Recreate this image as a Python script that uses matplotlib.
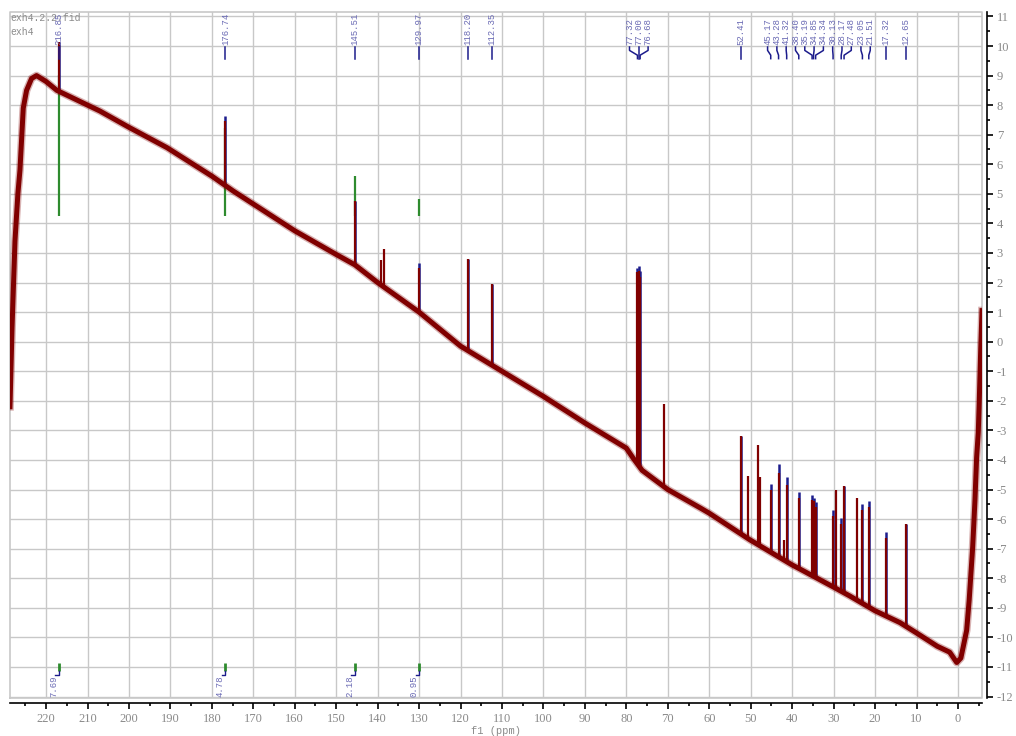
import numpy as np
import matplotlib.pyplot as plt
from matplotlib.ticker import MultipleLocator
from matplotlib.transforms import blended_transform_factory

plt.rcParams['font.family'] = ['Liberation Serif', 'DejaVu Serif']
plt.rcParams['axes.unicode_minus'] = False

# baseline of the 13C trace (ppm, intensity)
base_ppm = [228.7, 228.2, 227.5, 226.8, 226.3, 225.5, 224.7, 223.5, 222.3, 220.0,
            217.4, 207.0, 200.0, 190.8, 180.0, 174.9, 160.0, 150.0, 145.5, 140.0,
            130.0, 120.0, 110.0, 100.0, 90.0, 80.0, 78.3, 76.2, 70.0, 62.2,
            60.0, 50.2, 40.0, 38.1, 30.0, 26.1, 20.0, 14.0, 10.0, 5.0,
            2.0, 0.3, -0.7, -1.3, -2.1, -2.7, -3.55, -4.1, -4.5, -4.9,
            -5.14, -5.5, -5.8]
base_int = [-2.2, 0.5, 3.4, 5.0, 5.8, 7.9, 8.5, 8.9, 9.0, 8.8,
            8.5, 7.8, 7.25, 6.56, 5.6, 5.1, 3.75, 2.95, 2.6, 2.0,
            1.0, -0.15, -1.0, -1.85, -2.75, -3.6, -3.95, -4.35, -5.0, -5.62,
            -5.8, -6.7, -7.55, -7.69, -8.3, -8.6, -9.1, -9.5, -9.85, -10.3,
            -10.5, -10.85, -10.7, -10.3, -9.76, -8.75, -6.95, -5.37, -3.92, -3.07,
            -2.0, -0.2, 1.05]

# picked peaks (exh4) and their tops
pick_ppm = [216.85, 176.74, 145.51, 129.97, 118.20, 112.35, 77.32, 77.00, 76.68,
            52.41, 45.17, 43.28, 41.32, 38.40, 35.19, 34.85, 34.34, 30.13, 28.17,
            27.48, 23.05, 21.51, 17.32, 12.65]
pick_top = [10.15, 7.64, 4.75, 2.67, 2.8, 1.96, 2.5, 2.55, 2.4,
            -3.18, -4.8, -4.15, -4.56, -5.07, -5.2, -5.3, -5.43, -5.7, -5.95,
            -4.87, -5.5, -5.4, -6.45, -6.15]

# peaks of exh4.2.2.fid
red_ppm = [216.85, 176.74, 145.51, 139.2, 138.5, 129.97, 118.20, 112.35, 77.32,
           77.00, 76.68, 70.9, 52.41, 50.7, 48.2, 47.8, 45.17, 43.28, 41.9,
           41.32, 38.40, 35.19, 34.85, 34.34, 30.13, 29.4, 28.17, 27.48, 24.4,
           23.05, 21.51, 17.32, 12.65]
red_top = [10.15, 7.45, 4.75, 2.75, 3.15, 2.5, 2.8, 1.96, 2.35,
           2.4, 2.2, -2.1, -3.18, -4.53, -3.5, -4.56, -5.03, -4.45, -6.7,
           -4.85, -5.3, -5.35, -5.4, -5.6, -5.9, -5.03, -6.15, -4.87, -5.3,
           -5.7, -5.6, -6.65, -6.15]

# integrals
int_ppm = [216.85, 176.74, 145.51, 129.97]
int_val = [7.69, 4.78, 2.18, 0.95]

red = '#800000'
blue = '#1c1c8c'
lab = '#6a6ab4'
green = '#2e8b2e'
gray = '#c8c8c8'
tick_gray = '#8a8a8a'
mono = ['Liberation Mono', 'DejaVu Sans Mono']

fig = plt.figure(figsize=(10.16, 7.36), dpi=100)
ax = fig.add_axes([10 / 1016, 38 / 736, 972 / 1016, 686 / 736])
ax.set_xlim(228.7, -5.8)
ax.set_ylim(-12.05, 11.15)

# grid
for x in range(0, 230, 10):
    ax.axvline(x, color=gray, lw=1, zorder=0)
for y in range(-12, 12):
    ax.axhline(y, color=gray, lw=1, zorder=0)
ax.plot([0, 1, 1, 0, 0], [0, 0, 1, 1, 0], transform=ax.transAxes,
        color=gray, lw=1.2, clip_on=False, zorder=0)

base_ppm = np.array(base_ppm)
base_int = np.array(base_int)
order = np.argsort(base_ppm)

def foot(p):
    return np.interp(p, base_ppm[order], base_int[order])

# integral curves
int_scale = 0.62
int_base = 4.25
for p, v in zip(int_ppm, int_val):
    ax.vlines(p, int_base, int_base + v * int_scale, color=green, lw=1.6, zorder=1)

# exh4 trace underneath
ax.plot(base_ppm, base_int, color=blue, lw=2, zorder=2)
ax.vlines(pick_ppm, foot(np.array(pick_ppm)), pick_top, color=blue, lw=1.8, zorder=2)

# exh4.2.2.fid trace on top
ax.plot(base_ppm, base_int, color=red, lw=5.6, alpha=0.3, zorder=3)
ax.plot(base_ppm, base_int, color=red, lw=3.6, zorder=3)
ax.vlines(red_ppm, foot(np.array(red_ppm)), red_top, color=red, lw=1.6, zorder=3)

# peak labels spread along the top
fig.canvas.draw()
trans = blended_transform_factory(ax.transData, ax.transAxes)
px = ax.transData.transform(np.c_[pick_ppm, np.zeros(len(pick_ppm))])[:, 0]
gap = 9.3
blocks = [[i] for i in np.argsort(px)]
merged = True
while merged:
    merged = False
    for k in range(len(blocks) - 1):
        a, b = blocks[k], blocks[k + 1]
        sa = px[a].mean() - (len(a) - 1) * gap / 2
        sb = px[b].mean() - (len(b) - 1) * gap / 2
        if sb < sa + len(a) * gap:
            blocks[k] = a + b
            del blocks[k + 1]
            merged = True
            break
lx = np.zeros(len(px))
for blk in blocks:
    start = px[blk].mean() - (len(blk) - 1) * gap / 2
    for j, i in enumerate(blk):
        lx[i] = start + j * gap
inv = ax.transData.inverted()
label_ppm = inv.transform(np.c_[lx, np.zeros(len(lx))])[:, 0]

for p, l in zip(pick_ppm, label_ppm):
    ax.plot([l, l, p, p], [0.949, 0.944, 0.937, 0.932], transform=trans,
            color=blue, lw=1.1, clip_on=False, zorder=5)
    ax.text(l, 0.952, f'{p:.2f}', transform=trans, rotation=90, ha='center',
            va='bottom', fontsize=6.5, family=mono, color=lab, clip_on=False, zorder=5)

# integral marks along the bottom
for p, v in zip(int_ppm, int_val):
    ax.vlines(p, -11.13, -10.86, color=green, lw=2, zorder=4)
    ax.plot([p + 0.9, p, p], [-11.27, -11.27, -11.13], color=blue, lw=1, zorder=4)
    ax.text(p + 1.2, -11.3, f'{v:.2f}', rotation=90, ha='center', va='top',
            fontsize=6.5, family=mono, color=lab, zorder=5)

ax.text(0.0, 0.999, 'exh4.2.2.fid', transform=ax.transAxes, ha='left', va='top',
        fontsize=7, family=mono, color=tick_gray)
ax.text(0.0, 0.978, 'exh4', transform=ax.transAxes, ha='left', va='top',
        fontsize=7, family=mono, color=tick_gray)

# axes
for s in ['top', 'left']:
    ax.spines[s].set_visible(False)
ax.spines['bottom'].set_position(('outward', 3.6))
ax.spines['right'].set_position(('outward', 3.6))
ax.spines['bottom'].set_linewidth(1.2)
ax.spines['right'].set_linewidth(1.2)
ax.yaxis.tick_right()
ax.xaxis.set_major_locator(MultipleLocator(10))
ax.xaxis.set_minor_locator(MultipleLocator(5))
ax.yaxis.set_major_locator(MultipleLocator(1))
ax.yaxis.set_minor_locator(MultipleLocator(0.5))
ax.tick_params(which='major', length=4, width=1.2, labelsize=9, labelcolor=tick_gray, pad=3)
ax.tick_params(which='minor', length=2.5, width=1.2)
ax.set_xlabel('f1 (ppm)', fontsize=7.5, family=mono, color=tick_gray, labelpad=1)

fig.savefig('out.png', dpi=100)
